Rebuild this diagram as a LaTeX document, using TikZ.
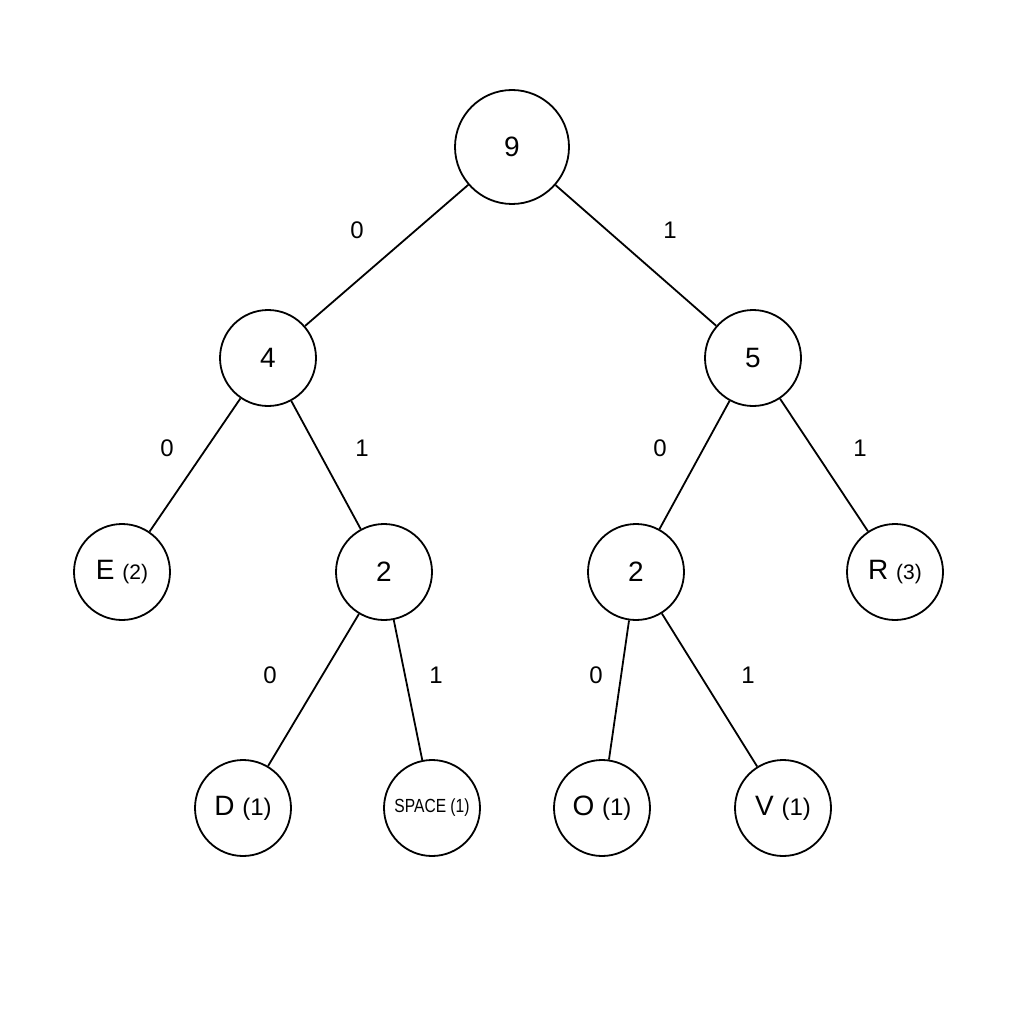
\documentclass[tikz,border=0pt]{standalone}
\usepackage{fontspec}
\setmainfont{Liberation Sans}
\begin{document}
\begin{tikzpicture}[x=1pt,y=-1pt,
  nd/.style={circle,draw,line width=1.8pt,minimum size=96pt,inner sep=0pt,font=\fontsize{28}{30}\selectfont},
  lb/.style={font=\fontsize{24}{26}\selectfont},
  sm/.style={font=\fontsize{20}{22}\selectfont},
  ed/.style={line width=1.8pt}]
\useasboundingbox (0,0) rectangle (1024,1024);
\node[nd,minimum size=114pt] (n9) at (512,147) {9};
\node[nd] (n4) at (268,358) {4};
\node[nd] (n5) at (753,358) {5};
\node[nd] (e) at (122,572) {E {\fontsize{21}{22}\selectfont(2)}};
\node[nd] (l2) at (384,572) {2};
\node[nd] (r2) at (636,572) {2};
\node[nd] (r) at (895,572) {R {\fontsize{21}{22}\selectfont(3)}};
\node[nd] (d) at (243,808) {D {\fontsize{24}{26}\selectfont(1)}};
\node[nd] (sp) at (432,808) {\fontsize{19}{20}\selectfont\addfontfeature{FakeStretch=0.82}SPACE (1)};
\node[nd] (o) at (602,808) {O {\fontsize{24}{26}\selectfont(1)}};
\node[nd] (v) at (783,808) {V {\fontsize{24}{26}\selectfont(1)}};
\draw[ed] (n9)--(n4); \draw[ed] (n9)--(n5);
\draw[ed] (n4)--(e); \draw[ed] (n4)--(l2);
\draw[ed] (n5)--(r2); \draw[ed] (n5)--(r);
\draw[ed] (l2)--(d); \draw[ed] (l2)--(sp);
\draw[ed] (r2)--(o); \draw[ed] (r2)--(v);
\node[lb] (a1) at (357,230) {0};
\node[lb] (a2) at (670,230) {1};
\node[lb] (a3) at (167,448) {0};
\node[lb] (a4) at (362,448) {1};
\node[lb] (a5) at (660,448) {0};
\node[lb] (a6) at (860,448) {1};
\node[lb] (a7) at (270,675) {0};
\node[lb] (a8) at (436,675) {1};
\node[lb] (a9) at (596,675) {0};
\node[lb] (a10) at (748,675) {1};
\end{tikzpicture}
\end{document}
